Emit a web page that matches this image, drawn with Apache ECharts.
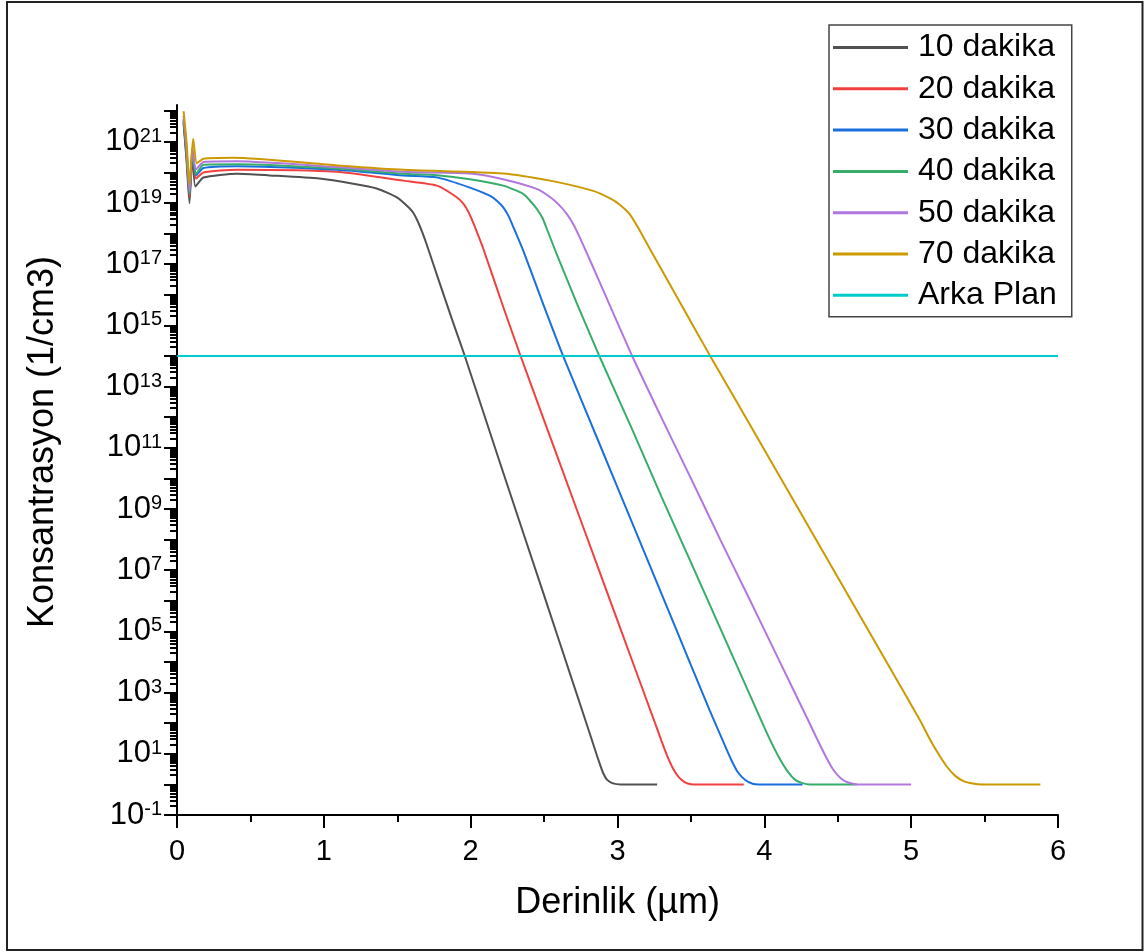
<!DOCTYPE html>
<html><head><meta charset="utf-8">
<script src="https://cdn.jsdelivr.net/npm/echarts@6/dist/echarts.min.js"></script>
<style>html,body{margin:0;padding:0;background:#fff}#c{width:1144px;height:952px}</style>
</head><body><div id="c"></div>
<script>
// ---- data (x: depth in µm, y: concentration in 1/cm3) ----
const seriesNames = ['10 dakika', '20 dakika', '30 dakika', '40 dakika', '50 dakika', '70 dakika', 'Arka Plan'];
const seriesColors = ['#515151', '#F14040', '#1A6FDF', '#37AD6B', '#B177DE', '#CC9900', '#00CBCC'];

const d10 = [[0.045,4e21],[0.065,2.5e20],[0.085,1e19],[0.105,4e20],[0.125,3.5e19],[0.18,6.8e19],[0.41,9.1e19],[0.63,8e19],[0.97,6.3e19],[1.2,4.3e19],[1.36,3e19],[1.5,1.5e19],[1.58,7e18],[1.61,4.7e18],[1.64,2.5e18],[1.67,1.12e18],[1.70,4.5e17],[1.77,4.5e16],[1.88,1.26e15],[1.96,1e14],[2.2,3.2e10],[2.5,1.5e6],[2.7,1.9e3],[2.82,34],[2.87,6.3],[2.9,2.5],[2.93,1.4],[2.97,1.08],[3.02,1],[3.27,1]];
const d20 = [[0.045,4.5e21],[0.065,3.2e20],[0.085,1.6e19],[0.105,4e20],[0.13,6.3e19],[0.18,1e20],[0.41,1.23e20],[1.09,1.05e20],[1.54,5.4e19],[1.77,3.7e19],[1.905,1.55e19],[1.95,9.5e18],[1.984,5.2e18],[2.01,2.75e18],[2.03,1.6e18],[2.086,3.2e17],[2.222,4e15],[2.34,1e14],[2.5,7.9e11],[2.7,1.9e9],[2.9,4.6e6],[3.1,1.1e4],[3.25,120],[3.3,26],[3.34,8.3],[3.38,3.2],[3.42,1.66],[3.46,1.17],[3.5,1.02],[3.55,1],[3.86,1]];
const d30 = [[0.045,5e21],[0.065,4e20],[0.085,2e19],[0.105,4e20],[0.13,8e19],[0.18,1.4e20],[0.41,1.6e20],[1.09,1.23e20],[1.54,8e19],[1.77,6.9e19],[1.995,3.2e19],[2.13,1.74e19],[2.18,1.17e19],[2.222,7.2e18],[2.26,3.6e18],[2.29,1.66e18],[2.358,2.8e17],[2.494,5e15],[2.63,1e14],[2.88,1.26e11],[3.1,3.5e8],[3.3,1.7e6],[3.5,7.9e3],[3.63,250],[3.72,25],[3.775,6.3],[3.82,2.5],[3.87,1.4],[3.92,1.05],[3.965,1],[4.26,1]];
const d40 = [[0.045,5.6e21],[0.065,5e20],[0.085,2e19],[0.105,5e20],[0.13,8.9e19],[0.18,1.8e20],[0.41,1.86e20],[1.09,1.35e20],[1.54,9.1e19],[1.77,8.1e19],[1.995,6e19],[2.222,3.7e19],[2.358,2e19],[2.40,1.26e19],[2.449,6.6e18],[2.49,3.2e18],[2.517,1.5e18],[2.585,2.2e17],[2.721,5.6e15],[2.88,9.1e13],[3.1,4e11],[3.3,2.5e9],[3.5,1.8e7],[3.7,1.26e5],[3.9,870],[3.98,120],[4.04,28],[4.1,7.6],[4.16,2.6],[4.21,1.41],[4.26,1.1],[4.31,1],[4.63,1]];
const d50 = [[0.045,7e21],[0.065,6.3e20],[0.085,2.5e19],[0.105,6.3e20],[0.13,1.26e20],[0.18,2.2e20],[0.41,2.3e20],[1.09,1.5e20],[1.54,1.05e20],[2.0,9.3e19],[2.22,6e19],[2.449,2.9e19],[2.54,1.58e19],[2.6,8.9e18],[2.653,4.5e18],[2.70,2e18],[2.76,5e17],[2.88,2.5e16],[3.1,1e14],[3.3,9.5e11],[3.5,1e10],[3.7,1e8],[3.9,1.1e6],[4.1,1.15e4],[4.3,120],[4.36,30],[4.42,7.9],[4.47,3],[4.52,1.58],[4.57,1.15],[4.62,1.02],[4.66,1],[5.0,1]];
const d70 = [[0.045,1e22],[0.065,1e21],[0.085,4e19],[0.11,1.26e21],[0.135,2e20],[0.18,2.8e20],[0.38,3e20],[1.09,1.7e20],[1.54,1.23e20],[2.22,9.3e19],[2.54,5.4e19],[2.834,2.5e19],[2.95,1.41e19],[3.02,8.5e18],[3.08,4.5e18],[3.14,1.58e18],[3.22,3.2e17],[3.356,2.2e16],[3.446,3.8e15],[3.628,1.07e14],[3.8,4e12],[4.1,1.26e10],[4.4,4e7],[4.7,1.26e5],[5.0,400],[5.06,126],[5.12,35],[5.18,11],[5.24,4],[5.3,1.9],[5.36,1.26],[5.42,1.07],[5.48,1],[5.88,1]];
const dBackground = [[0,1e14],[6,1e14]];

const seriesData = [d10, d20, d30, d40, d50, d70, dBackground];

// ---- axis ticks ----
const xTickLabels = ['0','1','2','3','4','5','6'];
const yMajorExponents = [-1,0,1,2,3,4,5,6,7,8,9,10,11,12,13,14,15,16,17,18,19,20,21,22];
const yLabelExponents = [-1,1,3,5,7,9,11,13,15,17,19,21];
const yMinorMantissas = [2,3,4,5,6,7,8,9];

const FONT = "'Liberation Sans', Arial, sans-serif";
const yMajorValues = yMajorExponents.map(e => Math.pow(10, e));
const yLabelValues = yLabelExponents.map(e => Math.pow(10, e));
const yMinorValues = [];
yMajorExponents.slice(0, -1).forEach(e => yMinorMantissas.forEach(m => yMinorValues.push(m * Math.pow(10, e))));

const chart = echarts.init(document.getElementById('c'), null, {renderer: 'canvas'});
const option = {
  animation: false,
  backgroundColor: '#ffffff',
  grid: {left: 177, right: 86, top: 105, bottom: 137, containLabel: false},
  legend: {
    orient: 'vertical', left: 829, top: 25,
    data: seriesNames,
    icon: 'rect', itemWidth: 75, itemHeight: 3, itemGap: 8.3,
    padding: [6, 15, 5, 4],
    borderColor: '#444', borderWidth: 1.5,
    textStyle: {fontFamily: FONT, fontSize: 32, color: '#000', lineHeight: 33, padding: [0,0,0,5]}
  },
  xAxis: {
    type: 'value', min: 0, max: 6, interval: 1,
    name: 'Derinlik (µm)', nameLocation: 'middle', nameGap: 70,
    nameTextStyle: {fontFamily: FONT, fontSize: 36, color: '#000'},
    axisLine: {show: true, onZero: false, lineStyle: {color: '#000', width: 2}},
    axisTick: {show: true, inside: false, length: 13, lineStyle: {color: '#000', width: 2}},
    minorTick: {show: true, splitNumber: 2, length: 7, lineStyle: {color: '#000', width: 2}},
    axisLabel: {fontFamily: FONT, fontSize: 29, color: '#000', margin: 22,
      formatter: v => xTickLabels[Math.round(v)]},
    splitLine: {show: false}
  },
  yAxis: [{
    type: 'log', logBase: 10, min: 0.1, max: 1.6e22,
    axisLine: {show: true, onZero: false, lineStyle: {color: '#000', width: 2}},
    axisTick: {show: true, inside: false, length: 13, customValues: yMajorValues, lineStyle: {color: '#000', width: 2}},
    axisLabel: {
      customValues: yLabelValues, margin: 15,
      formatter: v => '{b|10}{s|' + Math.round(Math.log10(v)) + '}',
      rich: {
        b: {fontFamily: FONT, fontSize: 31, color: '#000', lineHeight: 31},
        s: {fontFamily: FONT, fontSize: 20, color: '#000', verticalAlign: 'top', lineHeight: 20}
      }
    },
    splitLine: {show: false}
  }, {
    type: 'log', logBase: 10, min: 0.1, max: 1.6e22, position: 'left', gridIndex: 0,
    axisLine: {show: false},
    axisTick: {show: true, inside: false, length: 7, customValues: yMinorValues, lineStyle: {color: '#000', width: 2}},
    axisLabel: {show: false},
    splitLine: {show: false}
  }],
  series: seriesNames.map((n, i) => ({
    name: n, type: 'line', data: seriesData[i], yAxisIndex: 0,
    symbol: 'none', showSymbol: false, smooth: i === 6 ? false : 0.2,
    color: seriesColors[i],
    lineStyle: {color: seriesColors[i], width: 2},
    z: i === 6 ? 3 : 2
  })),
  graphic: [
    {type: 'rect', silent: true, z: 100,
      shape: {x: 7, y: 2, width: 1135.5, height: 948},
      style: {fill: null, stroke: '#222', lineWidth: 2}},
    {type: 'text', silent: true, x: 43, y: 442, rotation: Math.PI / 2,
      style: {text: 'Konsantrasyon (1/cm3)', font: '36px ' + FONT, fill: '#000', align: 'center', verticalAlign: 'middle'}}
  ]
};
chart.setOption(option);
</script>
</body></html>
